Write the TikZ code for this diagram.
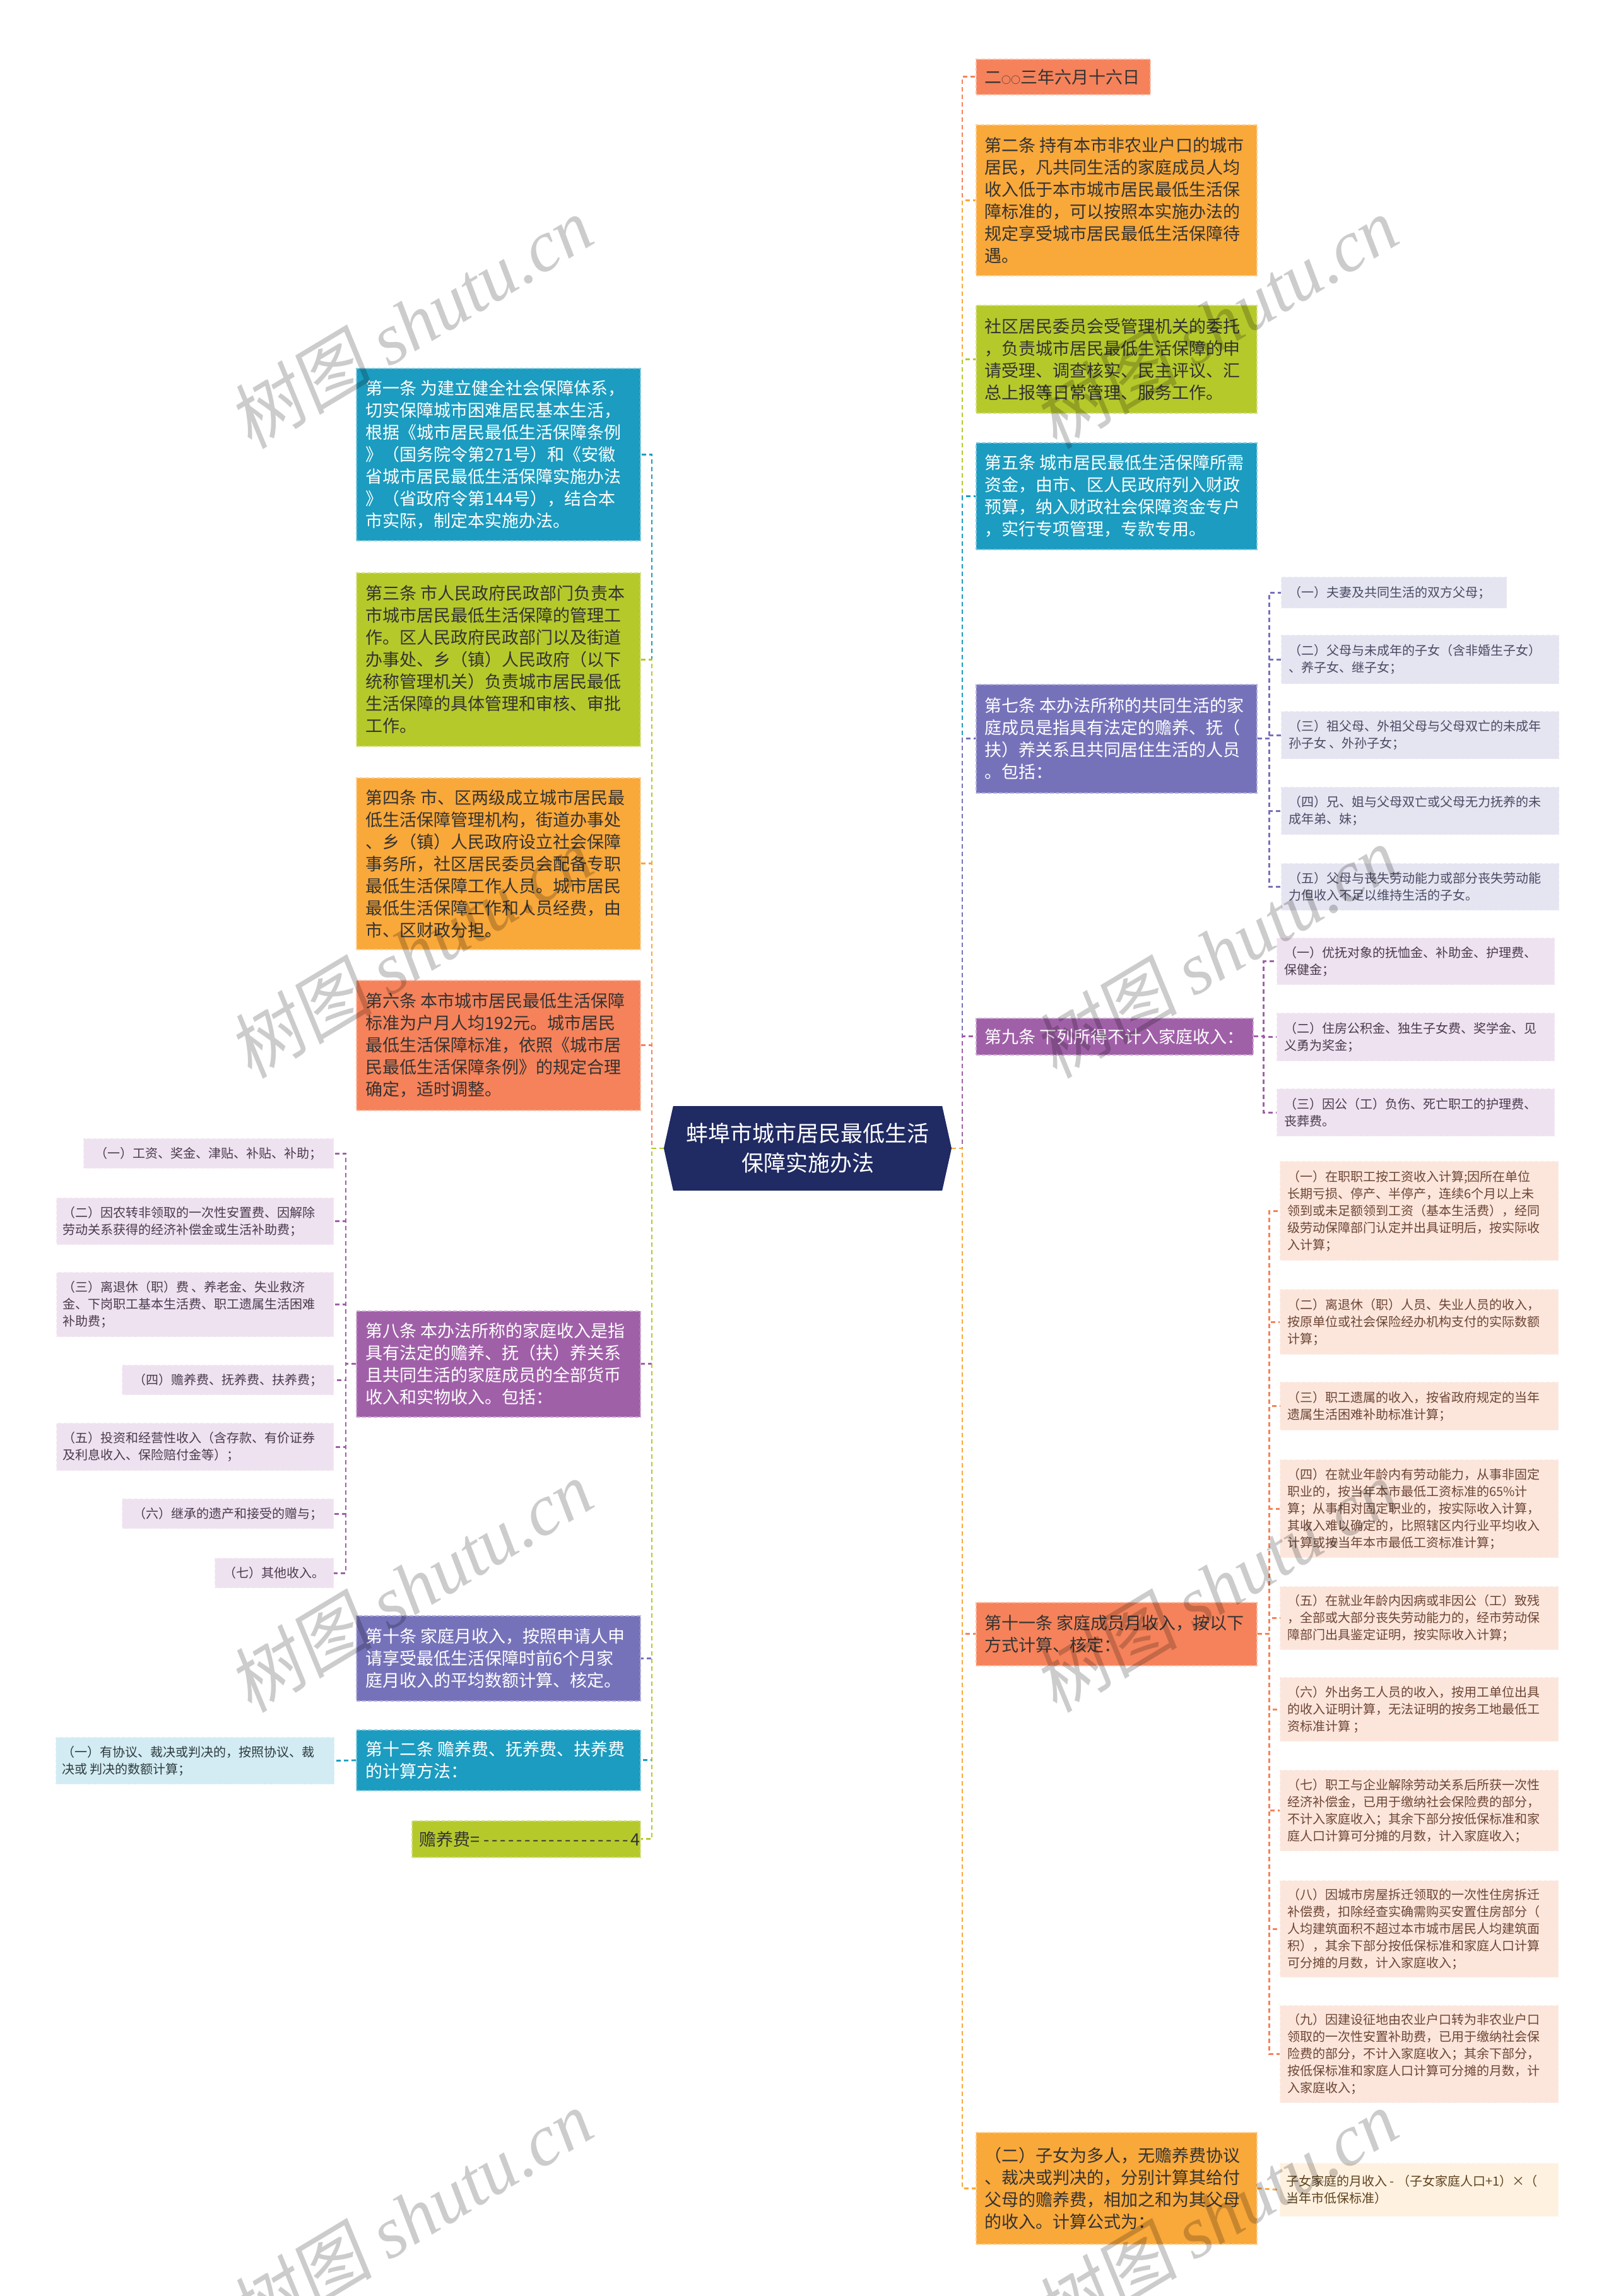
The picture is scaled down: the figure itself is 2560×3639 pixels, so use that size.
\documentclass[tikz,border=0pt]{standalone}
\usepackage{fontspec}
\setmainfont{Noto Sans CJK SC}
\newfontfamily\wmlat{Liberation Serif}
\newfontfamily\wmcjk[FakeSlant=0.15]{Noto Sans CJK SC}
\usetikzlibrary{shapes.symbols}
\definecolor{cBlue}{HTML}{1B9CC0}
\definecolor{cGreen}{HTML}{B6C92B}
\definecolor{cOrange}{HTML}{F9A83A}
\definecolor{cCoral}{HTML}{F5825A}
\definecolor{cIndigo}{HTML}{7672BA}
\definecolor{cPurple}{HTML}{A060A8}
\definecolor{cNavy}{HTML}{202A63}
\definecolor{cLav}{HTML}{E5E4F1}
\definecolor{cPink}{HTML}{EFE2F0}
\definecolor{cPeach}{HTML}{FCE6DC}
\definecolor{cCream}{HTML}{FEF1DF}
\definecolor{cSky}{HTML}{D3ECF3}
\definecolor{tDark}{HTML}{333333}
\definecolor{tLav}{HTML}{4A4A63}
\definecolor{tPink}{HTML}{4B3A4E}
\definecolor{tPeach}{HTML}{6D4534}
\definecolor{tSky}{HTML}{2E3B40}
\definecolor{tCream}{HTML}{5E4320}
\tikzset{
  mbox/.style={rectangle, inner sep=0pt, fill=#1, draw=#1!55!white, line width=1.6pt, dash pattern=on 6pt off 3pt},
  sbox/.style={rectangle, inner sep=0pt, fill=#1, draw=#1!70!white, line width=1.4pt, dash pattern=on 6pt off 3pt},
  tbig/.style={inner sep=0pt, text=#1, font=\fontsize{27}{35}\selectfont},
  tsml/.style={inner sep=0pt, text=#1, font=\fontsize{20}{27}\selectfont},
  conn/.style={draw=#1, line width=2.8pt, dash pattern=on 7pt off 5pt},
  wm/.style={rotate=31, inner sep=0pt, text=black, text opacity=0.2, font=\fontsize{115}{115}\selectfont}
}
% name, boxstyle, textstyle, pad, x, y, w, h, text
\newcommand\bx[9]{%
  \node[#2, minimum width=#7pt, minimum height=#8pt, anchor=north west] (#1) at (#5,#6) {};
  \node[#3, anchor=west, align=left] (#1t) at ([xshift=#4pt]#1.west) {#9};}
% centred text: name, boxstyle, textstyle, x, y, w, h, text
\newcommand\bc[8]{%
  \node[#2, minimum width=#6pt, minimum height=#7pt, anchor=north west] (#1) at (#4,#5) {};
  \node[#3, align=center] (#1t) at (#1.center) {#8};}
\newcommand\hy{-\kern3.6pt}
\begin{document}
\begin{tikzpicture}[x=1pt,y=-1pt]
\fill[white] (0,0) rectangle (2560,3639);
\useasboundingbox (0,0) rectangle (2560,3639);

% centre
\node[signal, signal to=west and east, signal pointer angle=155, fill=cNavy,
  minimum width=456pt, minimum height=134pt, inner sep=0pt, text=white,
  font=\fontsize{35}{47}\selectfont, align=center] (c) at (1280,1820)
  {蚌埠市城市居民最低生活\\保障实施办法};
\coordinate (lt) at (1033,1820);
\coordinate (rt) at (1525,1820);

% left column
\bx{n1}{mbox=cBlue}{tbig=white}{15}{564}{583}{450}{273}{第一条 为建立健全社会保障体系，\\切实保障城市困难居民基本生活，\\根据《城市居民最低生活保障条例\\》（国务院令第271号）和《安徽\\省城市居民最低生活保障实施办法\\》（省政府令第144号），结合本\\市实际，制定本实施办法。}
\bx{n3}{mbox=cGreen}{tbig=tDark}{15}{564}{907}{450}{275}{第三条 市人民政府民政部门负责本\\市城市居民最低生活保障的管理工\\作。区人民政府民政部门以及街道\\办事处、乡（镇）人民政府（以下\\统称管理机关）负责城市居民最低\\生活保障的具体管理和审核、审批\\工作。}
\bx{n4}{mbox=cOrange}{tbig=tDark}{15}{564}{1232}{450}{272}{第四条 市、区两级成立城市居民最\\低生活保障管理机构，街道办事处\\、乡（镇）人民政府设立社会保障\\事务所，社区居民委员会配备专职\\最低生活保障工作人员。城市居民\\最低生活保障工作和人员经费，由\\市、区财政分担。}
\bx{n6}{mbox=cCoral}{tbig=tDark}{15}{564}{1553}{450}{206}{第六条 本市城市居民最低生活保障\\标准为户月人均192元。城市居民\\最低生活保障标准，依照《城市居\\民最低生活保障条例》的规定合理\\确定，适时调整。}
\bx{n8}{mbox=cPurple}{tbig=white}{15}{564}{2077}{450}{168}{第八条 本办法所称的家庭收入是指\\具有法定的赡养、抚（扶）养关系\\且共同生活的家庭成员的全部货币\\收入和实物收入。包括：}
\bx{n10}{mbox=cIndigo}{tbig=white}{15}{564}{2560}{450}{135}{第十条 家庭月收入，按照申请人申\\请享受最低生活保障时前6个月家\\庭月收入的平均数额计算、核定。}
\bx{n12}{mbox=cBlue}{tbig=white}{15}{564}{2741}{450}{96}{第十二条 赡养费、抚养费、扶养费\\的计算方法：}
\bx{nz}{mbox=cGreen}{tbig=tDark}{12}{652}{2885}{362}{58}{赡养费=~\hy\hy\hy\hy\hy\hy\hy\hy\hy\hy\hy\hy\hy\hy\hy\hy\hy\hy 4}

% left far column
\bc{e1}{sbox=cPink}{tsml=tPink}{132}{1804}{396}{47}{（一）工资、奖金、津贴、补贴、补助；}
\bx{e2}{sbox=cPink}{tsml=tPink}{10}{89}{1898}{439}{74}{（二）因农转非领取的一次性安置费、因解除\\劳动关系获得的经济补偿金或生活补助费；}
\bx{e3}{sbox=cPink}{tsml=tPink}{10}{89}{2016}{439}{102}{（三）离退休（职）费 、养老金、失业救济\\金、下岗职工基本生活费、职工遗属生活困难\\补助费；}
\bc{e4}{sbox=cPink}{tsml=tPink}{193}{2163}{335}{47}{（四）赡养费、抚养费、扶养费；}
\bx{e5}{sbox=cPink}{tsml=tPink}{10}{89}{2255}{439}{75}{（五）投资和经营性收入（含存款、有价证券\\及利息收入、保险赔付金等）；}
\bc{e6}{sbox=cPink}{tsml=tPink}{193}{2375}{335}{47}{（六）继承的遗产和接受的赠与；}
\bc{e7}{sbox=cPink}{tsml=tPink}{340}{2469}{188}{47}{（七）其他收入。}
\bx{ny}{sbox=cSky}{tsml=tSky}{10}{88}{2753}{441}{74}{（一）有协议、裁决或判决的，按照协议、裁\\决或 判决的数额计算；}

% right column
\bx{nd}{mbox=cCoral}{tbig=tDark}{14}{1546}{93}{276}{56}{二{\fontsize{15}{15}\selectfont ○○}三年六月十六日}
\bx{n2}{mbox=cOrange}{tbig=tDark}{14}{1546}{197}{445}{239}{第二条 持有本市非农业户口的城市\\居民，凡共同生活的家庭成员人均\\收入低于本市城市居民最低生活保\\障标准的，可以按照本实施办法的\\规定享受城市居民最低生活保障待\\遇。}
\bx{ns}{mbox=cGreen}{tbig=tDark}{14}{1546}{483}{445}{171}{社区居民委员会受管理机关的委托\\，负责城市居民最低生活保障的申\\请受理、调查核实、民主评议、汇\\总上报等日常管理、服务工作。}
\bx{n5}{mbox=cBlue}{tbig=white}{14}{1546}{701}{445}{169}{第五条 城市居民最低生活保障所需\\资金，由市、区人民政府列入财政\\预算，纳入财政社会保障资金专户\\，实行专项管理，专款专用。}
\bx{n7}{mbox=cIndigo}{tbig=white}{14}{1546}{1084}{445}{172}{第七条 本办法所称的共同生活的家\\庭成员是指具有法定的赡养、抚（\\扶）养关系且共同居住生活的人员\\。包括：}
\bx{n9}{mbox=cPurple}{tbig=white}{14}{1546}{1613}{439}{58}{第九条 下列所得不计入家庭收入：}
\bx{n11}{mbox=cCoral}{tbig=tDark}{14}{1546}{2539}{445}{100}{第十一条 家庭成员月收入，按以下\\方式计算、核定：}
\bx{nb}{mbox=cOrange}{tbig=tDark}{14}{1546}{3379}{445}{177}{（二）子女为多人，无赡养费协议\\、裁决或判决的，分别计算其给付\\父母的赡养费，相加之和为其父母\\的收入。计算公式为：}

% right far column
\bx{a1}{sbox=cLav}{tsml=tLav}{12}{2030}{914}{357}{49}{（一）夫妻及共同生活的双方父母；}
\bx{a2}{sbox=cLav}{tsml=tLav}{12}{2030}{1006}{440}{77}{（二）父母与未成年的子女（含非婚生子女）\\、养子女、继子女；}
\bx{a3}{sbox=cLav}{tsml=tLav}{12}{2030}{1127}{440}{75}{（三）祖父母、外祖父母与父母双亡的未成年\\孙子女 、外孙子女；}
\bx{a4}{sbox=cLav}{tsml=tLav}{12}{2030}{1247}{440}{75}{（四）兄、姐与父母双亡或父母无力抚养的未\\成年弟、妹；}
\bx{a5}{sbox=cLav}{tsml=tLav}{12}{2030}{1368}{440}{74}{（五）父母与丧失劳动能力或部分丧失劳动能\\力但收入不足以维持生活的子女。}
\bx{b1}{sbox=cPink}{tsml=tPink}{12}{2023}{1486}{440}{74}{（一）优抚对象的抚恤金、补助金、护理费、\\保健金；}
\bx{b2}{sbox=cPink}{tsml=tPink}{12}{2023}{1605}{440}{76}{（二）住房公积金、独生子女费、奖学金、见\\义勇为奖金；}
\bx{b3}{sbox=cPink}{tsml=tPink}{12}{2023}{1725}{440}{75}{（三）因公（工）负伤、死亡职工的护理费、\\丧葬费。}
\bx{d1}{sbox=cPeach}{tsml=tPeach}{12}{2028}{1840}{441}{157}{（一）在职职工按工资收入计算;因所在单位\\长期亏损、停产、半停产，连续6个月以上未\\领到或未足额领到工资（基本生活费），经同\\级劳动保障部门认定并出具证明后，按实际收\\入计算；}
\bx{d2}{sbox=cPeach}{tsml=tPeach}{12}{2028}{2043}{441}{103}{（二）离退休（职）人员、失业人员的收入，\\按原单位或社会保险经办机构支付的实际数额\\计算；}
\bx{d3}{sbox=cPeach}{tsml=tPeach}{12}{2028}{2190}{441}{76}{（三）职工遗属的收入，按省政府规定的当年\\遗属生活困难补助标准计算；}
\bx{d4}{sbox=cPeach}{tsml=tPeach}{12}{2028}{2313}{441}{155}{（四）在就业年龄内有劳动能力，从事非固定\\职业的，按当年本市最低工资标准的65\%计\\算；从事相对固定职业的，按实际收入计算，\\其收入难以确定的，比照辖区内行业平均收入\\计算或按当年本市最低工资标准计算；}
\bx{d5}{sbox=cPeach}{tsml=tPeach}{12}{2028}{2514}{441}{100}{（五）在就业年龄内因病或非因公（工）致残\\，全部或大部分丧失劳动能力的，经市劳动保\\障部门出具鉴定证明，按实际收入计算；}
\bx{d6}{sbox=cPeach}{tsml=tPeach}{12}{2028}{2658}{441}{101}{（六）外出务工人员的收入，按用工单位出具\\的收入证明计算，无法证明的按务工地最低工\\资标准计算 ；}
\bx{d7}{sbox=cPeach}{tsml=tPeach}{12}{2028}{2805}{441}{128}{（七）职工与企业解除劳动关系后所获一次性\\经济补偿金，已用于缴纳社会保险费的部分，\\不计入家庭收入；其余下部分按低保标准和家\\庭人口计算可分摊的月数，计入家庭收入；}
\bx{d8}{sbox=cPeach}{tsml=tPeach}{12}{2028}{2980}{441}{153}{（八）因城市房屋拆迁领取的一次性住房拆迁\\补偿费，扣除经查实确需购买安置住房部分（\\人均建筑面积不超过本市城市居民人均建筑面\\积），其余下部分按低保标准和家庭人口计算\\可分摊的月数，计入家庭收入；}
\bx{d9}{sbox=cPeach}{tsml=tPeach}{12}{2028}{3178}{441}{154}{（九）因建设征地由农业户口转为非农业户口\\领取的一次性安置补助费，已用于缴纳社会保\\险费的部分，不计入家庭收入；其余下部分，\\按低保标准和家庭人口计算可分摊的月数，计\\入家庭收入；}
\bx{nf}{sbox=cCream}{tsml=tCream}{10}{2028}{3428}{441}{84}{子女家庭的月收入 - （子女家庭人口+1）×（\\当年市低保标准）}

% main connectors, left (top to bottom)
\draw[conn=cBlue] (c.west) -- (lt) |- (n1.east);
\draw[conn=cGreen] (c.west) -- (lt) |- (n3.east);
\draw[conn=cOrange] (c.west) -- (lt) |- (n4.east);
\draw[conn=cCoral] (c.west) -- (lt) |- (n6.east);
\draw[conn=cPurple] (c.west) -- (lt) |- (n8.east);
\draw[conn=cIndigo] (c.west) -- (lt) |- (n10.east);
\draw[conn=cBlue] (c.west) -- (lt) |- (n12.east);
\draw[conn=cGreen] (c.west) -- (lt) |- (nz.east);
% main connectors, right
\draw[conn=cCoral] (c.east) -- (rt) |- (nd.west);
\draw[conn=cOrange] (c.east) -- (rt) |- (n2.west);
\draw[conn=cGreen] (c.east) -- (rt) |- (ns.west);
\draw[conn=cBlue] (c.east) -- (rt) |- (n5.west);
\draw[conn=cIndigo] (c.east) -- (rt) |- (n7.west);
\draw[conn=cPurple] (c.east) -- (rt) |- (n9.west);
\draw[conn=cCoral] (c.east) -- (rt) |- (n11.west);
\draw[conn=cOrange] (c.east) -- (rt) |- (nb.west);
% sub connectors
\foreach \k in {e1,e2,e3,e4,e5,e6,e7}
  \draw[conn=cPurple] (n8.west) -- ++(-16,0) |- (\k.east);
\draw[conn=cBlue] (n12.west) -- (ny.east);
\foreach \k in {a1,a2,a3,a4,a5}
  \draw[conn=cIndigo] (n7.east) -- ++(19,0) |- (\k.west);
\foreach \k in {b1,b2,b3}
  \draw[conn=cPurple] (n9.east) -- ++(16,0) |- (\k.west);
\foreach \k in {d1,d2,d3,d4,d5,d6,d7,d8,d9}
  \draw[conn=cCoral] (n11.east) -- ++(19,0) |- (\k.west);
\draw[conn=cOrange] (nb.east) -- (nf.west);

% watermarks
\node[wm] (w1) at (650,511) {{\wmcjk 树图} {\wmlat\itshape shutu.cn}};
\node[wm] (w2) at (1926,511) {{\wmcjk 树图} {\wmlat\itshape shutu.cn}};
\node[wm] (w3) at (650,1509) {{\wmcjk 树图} {\wmlat\itshape shutu.cn}};
\node[wm] (w4) at (1926,1509) {{\wmcjk 树图} {\wmlat\itshape shutu.cn}};
\node[wm] (w5) at (650,2514) {{\wmcjk 树图} {\wmlat\itshape shutu.cn}};
\node[wm] (w6) at (1926,2514) {{\wmcjk 树图} {\wmlat\itshape shutu.cn}};
\node[wm] (w7) at (650,3512) {{\wmcjk 树图} {\wmlat\itshape shutu.cn}};
\node[wm] (w8) at (1926,3512) {{\wmcjk 树图} {\wmlat\itshape shutu.cn}};
\end{tikzpicture}
\end{document}
